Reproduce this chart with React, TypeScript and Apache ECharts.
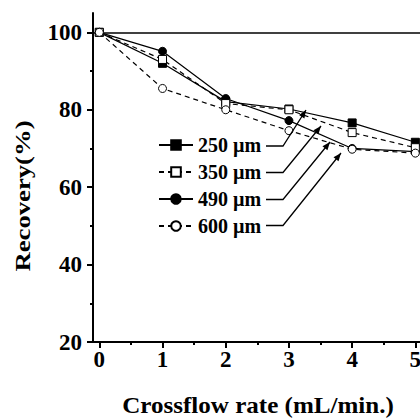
import React, { useEffect, useRef } from "react";
import * as echarts from "echarts";

const xValues = [0, 1, 2, 3, 4, 5];
const rec250 = [100, 92.0, 82.1, 80.2, 76.6, 71.6];
const rec350 = [100, 93.0, 81.6, 80.0, 74.1, 70.2];
const rec490 = [100, 95.1, 82.9, 77.2, 70.0, 69.2];
const rec600 = [100, 85.5, 80.0, 74.6, 69.8, 68.8];
const seriesNames = ["250 µm", "350 µm", "490 µm", "600 µm"];
const yMajorTicks = [20, 40, 60, 80, 100];
const yMinorTicks = [30, 50, 70, 90];
const xMajorTicks = [0, 1, 2, 3, 4, 5];
const xMinorTicks = [0.5, 1.5, 2.5, 3.5, 4.5];
const xTitle = "Crossflow rate (mL/min.)";
const yTitle = "Recovery(%)";

const FONT = "'Liberation Serif', 'Times New Roman', serif";

export default function App() {
  const ref = useRef<HTMLDivElement>(null);
  useEffect(() => {
    if (!ref.current) return;
    const chart = echarts.init(ref.current, null, { renderer: "svg" });
    const pair = (ys: number[]) => xValues.map((x, i) => [x, ys[i]]);
    const mk = (
      name: string,
      ys: number[],
      symbol: string,
      filled: boolean,
      dashed: boolean,
      z: number
    ) => ({
      name,
      type: "line",
      data: pair(ys),
      symbol,
      symbolSize: 8,
      z,
      lineStyle: { color: "#000", width: 1.2, type: dashed ? [5, 4] : "solid" },
      itemStyle: { color: filled ? "#000" : "#fff", borderColor: "#000", borderWidth: 1 },
      emphasis: { disabled: true },
    });

    const arrowRows = [
      { y: 146, tip: [306, 110] },
      { y: 172.5, tip: [321, 126] },
      { y: 199.5, tip: [330, 142] },
      { y: 225.5, tip: [341, 153] },
    ];
    const graphics: any[] = [];
    arrowRows.forEach((r) => {
      const bx = 283;
      const [tx, ty] = r.tip;
      graphics.push({
        type: "polyline",
        shape: { points: [[266, r.y], [bx, r.y], [tx, ty]] },
        style: { stroke: "#000", lineWidth: 1.3, fill: null },
        z: 100,
      });
      const dx = tx - bx;
      const dy = ty - r.y;
      const len = Math.sqrt(dx * dx + dy * dy);
      const ux = dx / len;
      const uy = dy / len;
      const L = 8;
      const W = 3.2;
      const baseX = tx - ux * L;
      const baseY = ty - uy * L;
      graphics.push({
        type: "polygon",
        shape: {
          points: [
            [tx, ty],
            [baseX - uy * W, baseY + ux * W],
            [baseX + uy * W, baseY - ux * W],
          ],
        },
        style: { fill: "#000" },
        z: 100,
      });
    });
    graphics.push({
      type: "text",
      x: 23,
      y: 196,
      rotation: Math.PI / 2,
      scaleX: 1.27,
      style: {
        text: yTitle,
        font: `bold 21px ${FONT}`,
        fill: "#000",
        align: "center",
        verticalAlign: "middle",
      },
    });
    graphics.push({
      type: "text",
      x: 258,
      y: 405,
      scaleX: 1.09,
      style: {
        text: xTitle,
        font: `bold 23px ${FONT}`,
        fill: "#000",
        align: "center",
        verticalAlign: "middle",
      },
    });

    const s250: any = mk(seriesNames[0], rec250, "rect", true, false, 3);
    s250.markLine = {
      silent: true,
      symbol: "none",
      label: { show: false },
      lineStyle: { color: "#000", width: 1.5, type: "solid" },
      data: [{ yAxis: 100 }],
    };

    chart.setOption({
      animation: false,
      backgroundColor: "#fff",
      grid: {
        left: 93,
        right: -8,
        top: 13,
        bottom: 76,
        containLabel: false,
        outerBoundsMode: "none",
      },
      legend: {
        orient: "vertical",
        left: 153,
        top: 130,
        itemWidth: 34,
        itemHeight: 12,
        itemGap: 7,
        data: seriesNames,
        textStyle: { fontFamily: FONT, fontWeight: "bold", fontSize: 20, color: "#000" },
      },
      xAxis: [
        {
          type: "value",
          min: -0.1,
          max: 5.2,
          position: "bottom",
          splitLine: { show: false },
          axisLine: { show: true, onZero: false, lineStyle: { color: "#000", width: 2 } },
          axisTick: { show: true, length: 6, lineStyle: { color: "#000", width: 2 }, customValues: xMajorTicks },
          axisLabel: {
            customValues: xMajorTicks,
            fontFamily: FONT,
            fontWeight: "bold",
            fontSize: 23,
            color: "#000",
            margin: 6,
          },
        },
        {
          type: "value",
          min: -0.1,
          max: 5.2,
          position: "bottom",
          splitLine: { show: false },
          axisLine: { show: false, onZero: false },
          axisTick: { show: true, length: 3, lineStyle: { color: "#000", width: 2 }, customValues: xMinorTicks },
          axisLabel: { show: false },
        },
      ],
      yAxis: [
        {
          type: "value",
          min: 20,
          max: 105,
          position: "left",
          splitLine: { show: false },
          axisLine: { show: true, onZero: false, lineStyle: { color: "#000", width: 2 } },
          axisTick: { show: true, length: 6, lineStyle: { color: "#000", width: 2 }, customValues: yMajorTicks },
          axisLabel: {
            customValues: yMajorTicks,
            fontFamily: FONT,
            fontWeight: "bold",
            fontSize: 23,
            color: "#000",
            margin: 11,
          },
        },
        {
          type: "value",
          min: 20,
          max: 105,
          position: "left",
          splitLine: { show: false },
          axisLine: { show: false, onZero: false },
          axisTick: { show: true, length: 3, lineStyle: { color: "#000", width: 2 }, customValues: yMinorTicks },
          axisLabel: { show: false },
        },
      ],
      series: [
        s250,
        mk(seriesNames[1], rec350, "rect", false, true, 4),
        mk(seriesNames[2], rec490, "circle", true, false, 2),
        mk(seriesNames[3], rec600, "circle", false, true, 5),
      ],
      graphic: graphics,
    });
    return () => chart.dispose();
  }, []);
  return <div ref={ref} style={{ width: 420, height: 418, position: "absolute", left: 0, top: 0 }} />;
}
